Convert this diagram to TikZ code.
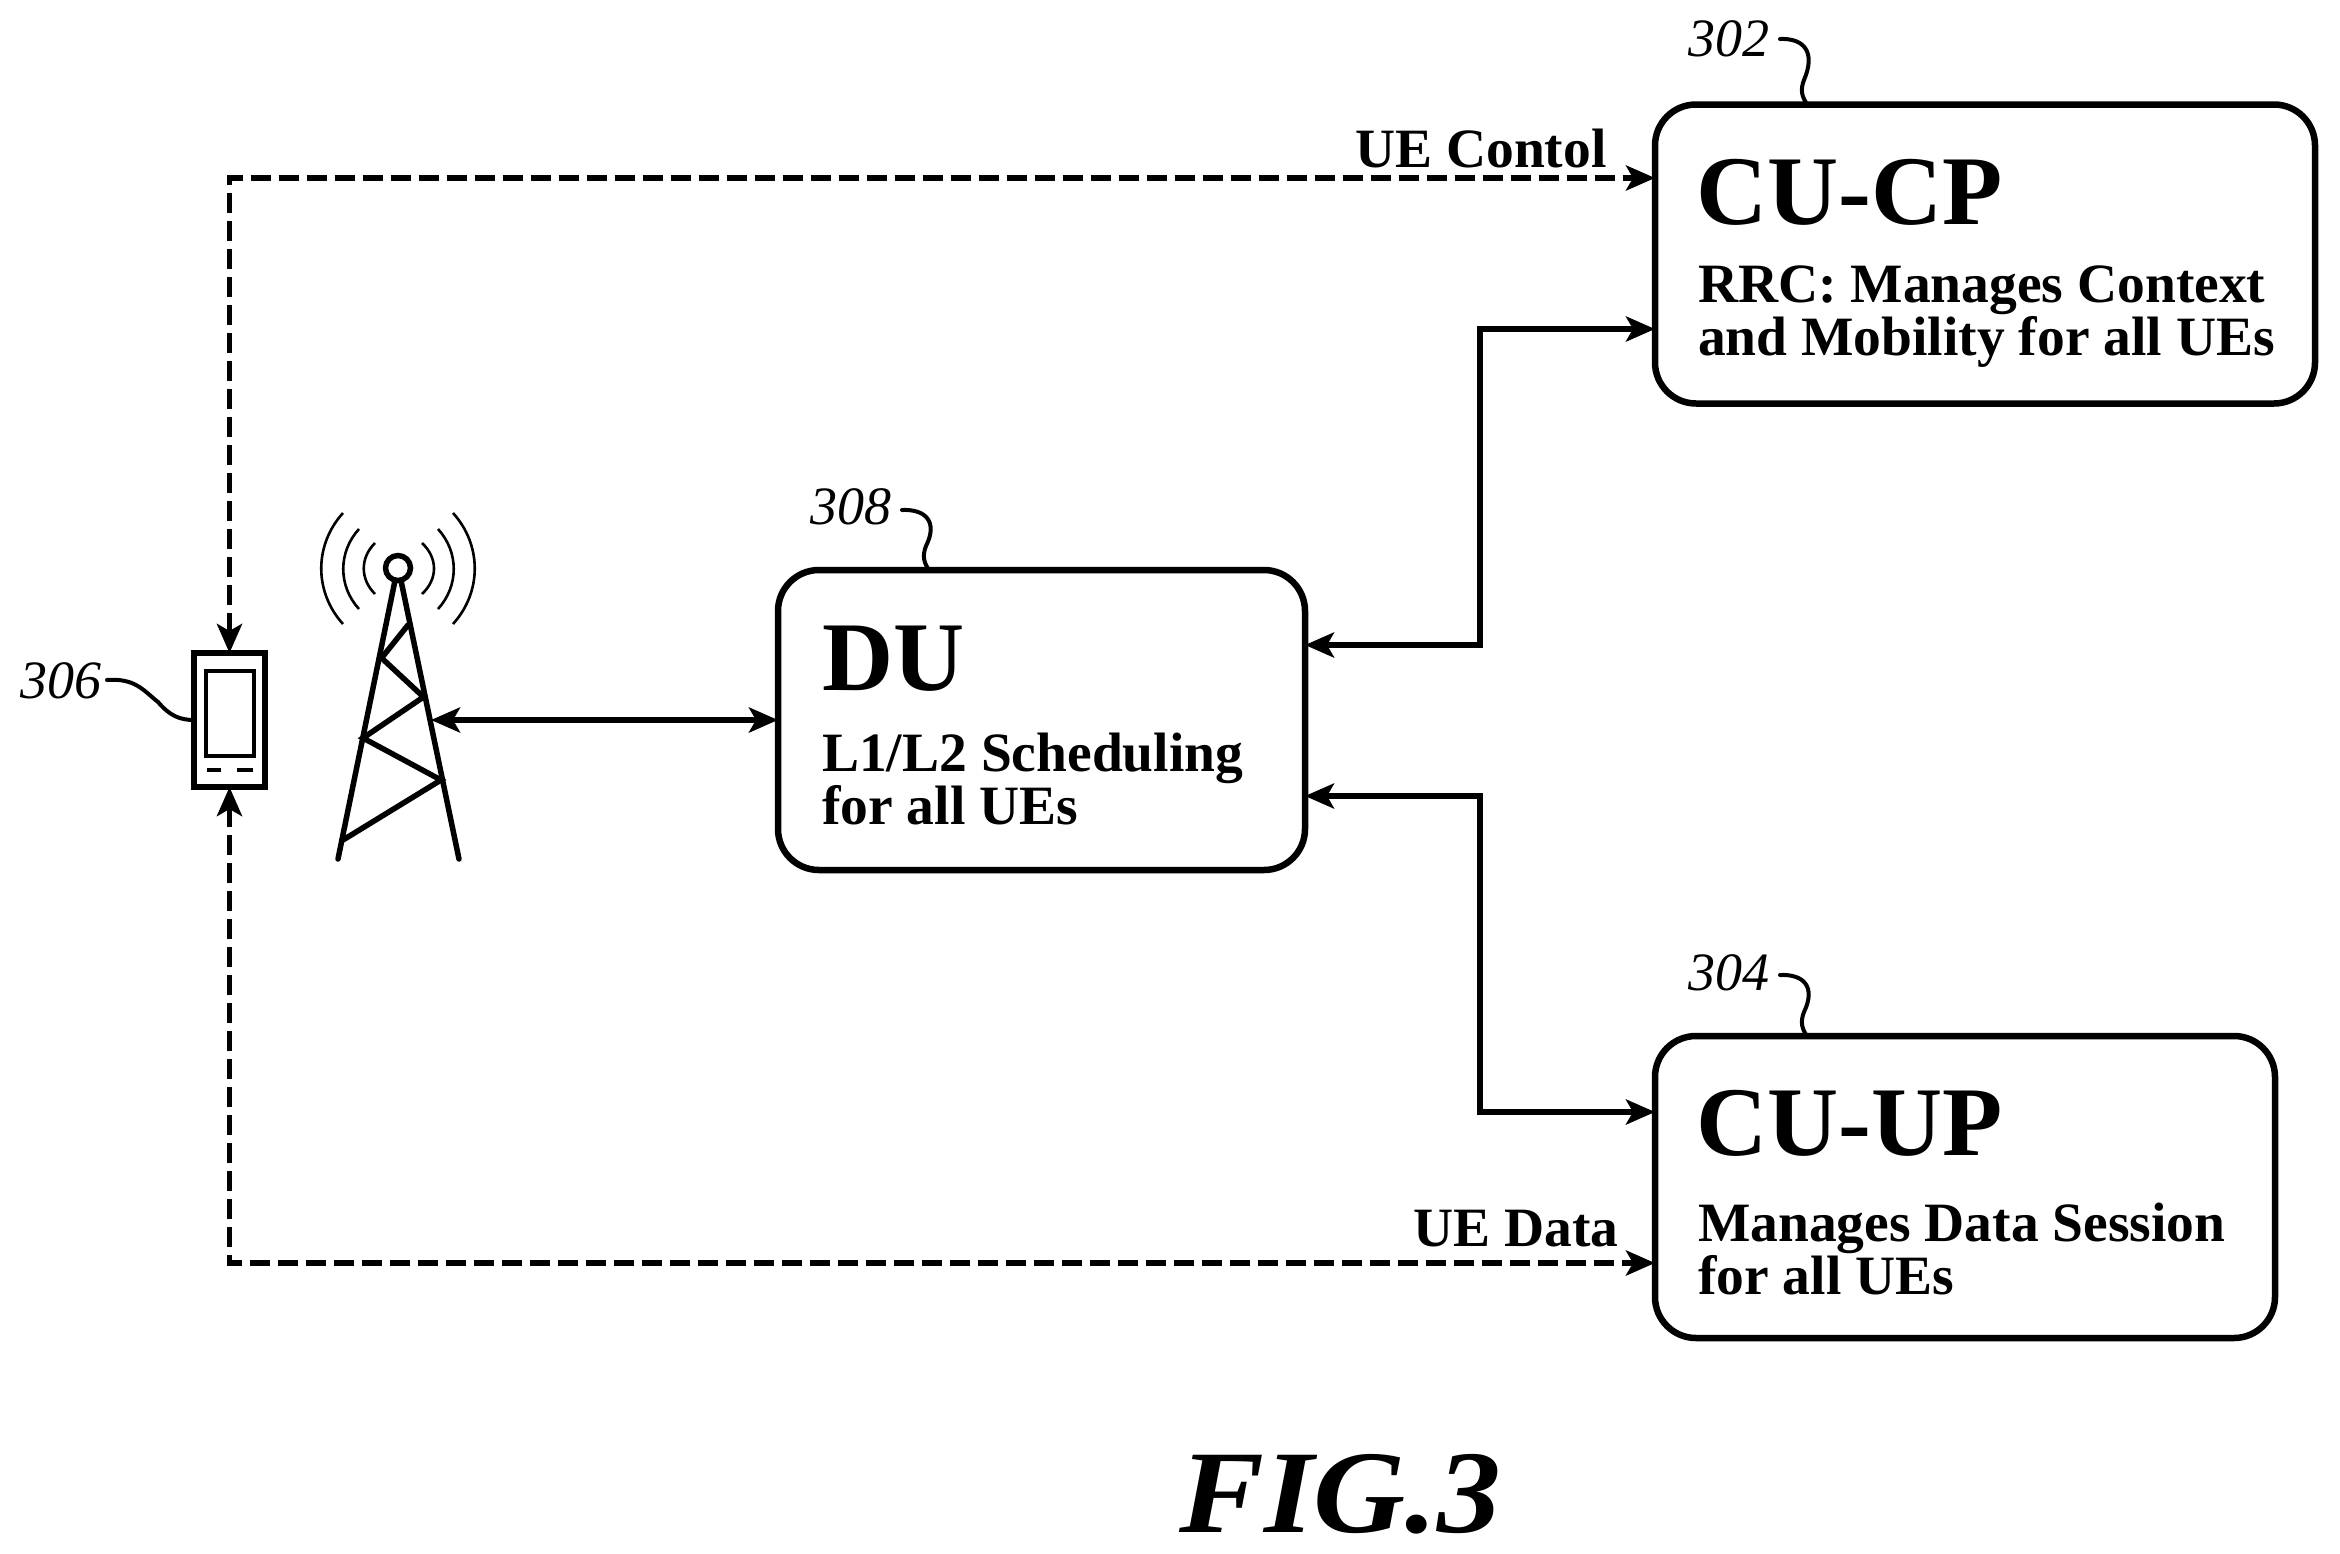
\documentclass[tikz,border=0pt]{standalone}
\usepackage{fontspec}
\setmainfont{Liberation Serif}
\usetikzlibrary{arrows.meta}
\tikzset{
  box/.style={draw=black,line width=6.5pt,rounded corners=41pt,inner sep=0pt,outer sep=0pt,fill=white},
  title/.style={anchor=base west,inner sep=0pt,font=\fontsize{98.5}{98}\selectfont\bfseries},
  sub/.style={anchor=base west,inner sep=0pt,align=left,font=\fontsize{55.5}{53}\selectfont\bfseries},
  lab/.style={anchor=base west,inner sep=0pt,font=\fontsize{55.5}{54}\selectfont\bfseries},
  ref/.style={anchor=base west,inner sep=0pt,font=\fontsize{54}{54}\selectfont\itshape},
  solidc/.style={line width=5.5pt,{Stealth[length=29pt,width=25pt,inset=7pt]}-{Stealth[length=29pt,width=25pt,inset=7pt]}},
  dashc/.style={line width=5.5pt,dash pattern=on 20pt off 8pt,{Stealth[length=29pt,width=25pt,inset=7pt]}-{Stealth[length=29pt,width=25pt,inset=7pt]}},
  leader/.style={line width=4pt,line cap=round},
  tower/.style={line width=5.5pt,line cap=round},
  wave/.style={line width=2.6pt},
}
\begin{document}
\begin{tikzpicture}[x=1pt,y=-1pt]
\useasboundingbox (0,0) rectangle (2340,1553);
\fill[white] (0,0) rectangle (2340,1553);
% boxes
\node[box,minimum width=660pt,minimum height=299pt] (cucp) at (1985,254) {};
\node[box,minimum width=527pt,minimum height=300pt] (du) at (1041.5,720) {};
\node[box,minimum width=620pt,minimum height=302pt] (cuup) at (1965,1187) {};
% box text
\node[title] (tcp) at (1696,224) {CU-CP};
\node[sub] (scp) at (1698,355) {RRC: Manages Context\\and Mobility for all UEs};
\node[title] (tdu) at (822,690) {DU};
\node[sub] (sdu) at (822,824) {L1/L2 Scheduling\\for all UEs};
\node[title] (tup) at (1696,1155) {CU-UP};
\node[sub] (sup1) at (1698,1294) {Manages Data Session\\for all UEs};
% phone
\node[draw=black,line width=6pt,inner sep=0pt,outer sep=0pt,minimum width=71pt,minimum height=134pt] (phone) at (229.5,720) {};
\node[draw=black,line width=4pt,inner sep=0pt,outer sep=0pt,minimum width=48pt,minimum height=85pt] (screen) at (230,713.5) {};
\draw[line width=4pt] (207,770) -- (221,770) (237,770) -- (252.5,770);
% tower
\node[circle,draw=black,line width=5.5pt,inner sep=0pt,outer sep=0pt,minimum size=25pt] (ant) at (398,568) {};
\coordinate (towerport) at (431,720);
\draw[tower] (ant.south) ++(-3,0) -- (338,859);
\draw[tower] (ant.south) ++(3,0) -- (459,859);
\draw[tower] (408,625) -- (381.6,658) -- (423.5,697) -- (363,738) -- (441,780) -- (343,840);
\draw[wave] (343,513) .. controls (314,545) and (314,592) .. (343,624);
\draw[wave] (359,529) .. controls (338,552) and (338,586) .. (359,609);
\draw[wave] (375,543) .. controls (360,558) and (360,579) .. (375,594);
\draw[wave] (453,513) .. controls (482,545) and (482,592) .. (453,624);
\draw[wave] (438,529) .. controls (459,552) and (459,586) .. (438,609);
\draw[wave] (422,543) .. controls (438,558) and (438,579) .. (422,594);
% connectors
\coordinate (cpd) at (cucp.west |- 0,178);
\coordinate (cps) at (cucp.west |- 0,329);
\coordinate (dua) at (du.east |- 0,645);
\coordinate (dub) at (du.east |- 0,796);
\coordinate (upd) at (cuup.west |- 0,1263);
\coordinate (ups) at (cuup.west |- 0,1112);
\draw[dashc] (phone.north) -- (phone.north |- cpd) -- (cpd);
\draw[dashc] (phone.south) -- (phone.south |- upd) -- (upd);
\draw[solidc] (dua) -- (1480,645) -- (1480,329) -- (cps);
\draw[solidc] (dub) -- (1480,796) -- (1480,1112) -- (ups);
\draw[solidc] (towerport) -- (du.west);
% connector labels
\node[lab] (luc) at (1355,167) {UE Contol};
\node[lab] (lud) at (1413,1246) {UE Data};
% reference numerals
\node[ref] (r302) at (1688,56) {302};
\node[ref] (r304) at (1688,990) {304};
\node[ref] (r308) at (810,524) {308};
\node[ref] (r306) at (20,698) {306};
\coordinate (e302) at (1807,104);
\coordinate (e304) at (1807,1036);
\coordinate (e308) at (929,570);
\draw[leader] (1780,39) .. controls (1804,38) and (1816,52) .. (1804,80) .. controls (1800,90) and (1802,97) .. (e302);
\draw[leader] (1780,975) .. controls (1804,974) and (1816,987) .. (1804,1012) .. controls (1800,1022) and (1802,1029) .. (e304);
\draw[leader] (902,510) .. controls (926,509) and (938,522) .. (926,546) .. controls (922,556) and (924,563) .. (e308);
\draw[leader] (107,680) .. controls (135,678) and (143,690) .. (158,702) .. controls (170,716) and (180,720) .. (phone.west);
% figure label
\node[anchor=base west,inner sep=0pt,xscale=1.08,transform shape,font=\fontsize{118}{118}\selectfont\bfseries\itshape] (fig) at (1179,1532) {FIG.3};
\end{tikzpicture}
\end{document}
